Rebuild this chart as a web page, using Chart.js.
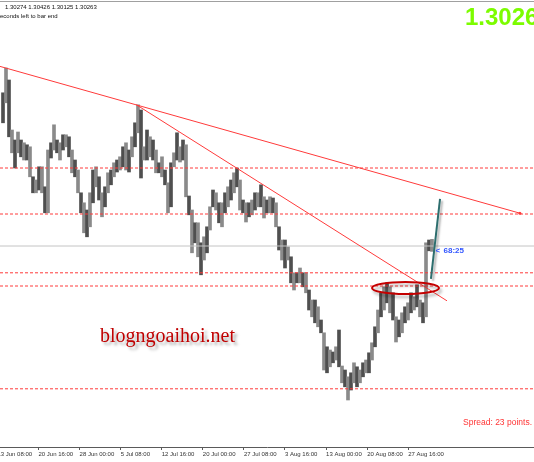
<!DOCTYPE html>
<html>
<head>
<meta charset="utf-8">
<script src="https://cdn.jsdelivr.net/npm/chart.js@4.4.1/dist/chart.umd.min.js"></script>
<style>
  html, body { margin: 0; padding: 0; background: #fff; }
  #wrap { width: 534px; height: 462px; }
</style>
</head>
<body>
<div id="wrap"><canvas id="c" width="534" height="462"></canvas></div>
<script>
(function () {
  "use strict";

  // H4 bars (high / low), oldest first
  var barHigh = [
    1.3409, 1.3471, 1.3441, 1.3316, 1.3291, 1.3311, 1.3291, 1.3284, 1.3279, 1.3274,
    1.3199, 1.3191, 1.3224, 1.3224, 1.3174, 1.3266, 1.3284, 1.3329, 1.3291, 1.3284,
    1.3304, 1.3304, 1.3299, 1.3266, 1.3241, 1.3216, 1.3159, 1.3134, 1.3116, 1.3159,
    1.3216, 1.3224, 1.3199, 1.3159, 1.3174, 1.3209, 1.3216, 1.3234, 1.3241, 1.3249,
    1.3274, 1.3284, 1.3266, 1.3299, 1.3334, 1.3379, 1.3366, 1.3274, 1.3316, 1.3299,
    1.3291, 1.3266, 1.3234, 1.3249, 1.3216, 1.3184, 1.3234, 1.3259, 1.3309, 1.3274,
    1.3291, 1.3279, 1.3151, 1.3116, 1.3084, 1.3084, 1.3034, 1.3049, 1.3074, 1.3124,
    1.3166, 1.3159, 1.3134, 1.3134, 1.3159, 1.3174, 1.3191, 1.3209, 1.3221, 1.3191,
    1.3141, 1.3134, 1.3134, 1.3141, 1.3159, 1.3159, 1.3179, 1.3149, 1.3141, 1.3149,
    1.3146, 1.3134, 1.3074, 1.3041, 1.3041, 1.3024, 1.2999, 1.2959, 1.2959, 1.2971,
    1.2959, 1.2959, 1.2916, 1.2891, 1.2891, 1.2874, 1.2841, 1.2809, 1.2774, 1.2766,
    1.2761, 1.2774, 1.2816, 1.2726, 1.2716, 1.2699, 1.2709, 1.2734, 1.2724, 1.2716,
    1.2734, 1.2741, 1.2759, 1.2784, 1.2824, 1.2866, 1.2909, 1.2924, 1.2934, 1.2924,
    1.2909, 1.2849, 1.2841, 1.2859, 1.2874, 1.2884, 1.2909, 1.2899, 1.2929, 1.2891,
    1.2884, 1.3034, 1.3041, 1.30426
  ];
  var barLow = [
    1.3334, 1.3384, 1.3299, 1.3259, 1.3221, 1.3259, 1.3249, 1.3241, 1.3241, 1.3199,
    1.3159, 1.3159, 1.3166, 1.3159, 1.3109, 1.3109, 1.3246, 1.3266, 1.3259, 1.3241,
    1.3266, 1.3274, 1.3249, 1.3209, 1.3199, 1.3159, 1.3109, 1.3059, 1.3049, 1.3074,
    1.3134, 1.3174, 1.3141, 1.3099, 1.3124, 1.3159, 1.3179, 1.3199, 1.3211, 1.3216,
    1.3224, 1.3216, 1.3211, 1.3249, 1.3274, 1.3309, 1.3196, 1.3241, 1.3241, 1.3249,
    1.3241, 1.3209, 1.3209, 1.3199, 1.3179, 1.3109, 1.3124, 1.3224, 1.3241, 1.3236,
    1.3241, 1.3149, 1.3104, 1.3009, 1.3034, 1.2999, 1.2954, 1.2991, 1.3009, 1.3066,
    1.3124, 1.3116, 1.3084, 1.3074, 1.3109, 1.3124, 1.3141, 1.3159, 1.3174, 1.3116,
    1.3109, 1.3086, 1.3099, 1.3104, 1.3116, 1.3124, 1.3124, 1.3096, 1.3109, 1.3109,
    1.3109, 1.3074, 1.3016, 1.2991, 1.2971, 1.2991, 1.2934, 1.2916, 1.2934, 1.2934,
    1.2924, 1.2909, 1.2866, 1.2849, 1.2834, 1.2824, 1.2809, 1.2716, 1.2709, 1.2724,
    1.2734, 1.2741, 1.2724, 1.2684, 1.2674, 1.2641, 1.2666, 1.2684, 1.2674, 1.2684,
    1.2699, 1.2709, 1.2709, 1.2741, 1.2774, 1.2809, 1.2849, 1.2866, 1.2884, 1.2859,
    1.2841, 1.2786, 1.2799, 1.2809, 1.2834, 1.2841, 1.2859, 1.2866, 1.2874, 1.2849,
    1.2834, 1.2849, 1.3014, 1.30125
  ];

  // time axis, in H4 bar units
  var timeLabels = [
    "13 Jun 08:00", "20 Jun 16:00", "28 Jun 00:00", "5 Jul 08:00",
    "12 Jul 16:00", "20 Jul 00:00", "27 Jul 08:00", "3 Aug 16:00",
    "13 Aug 00:00", "20 Aug 08:00", "27 Aug 16:00"
  ];
  var timeTicks = [-2, 30, 62, 94, 126, 158, 190, 222, 254, 286, 318];

  var levelPrices = [1.3221, 1.3106, 1.2959, 1.2926, 1.2669];
  var bidPrice = 1.3026;

  var trendTimes = [[0, 405], [106.3, 348.2]];
  var trendPrices = [[1.3475, 1.3108], [1.3379, 1.2889]];

  var arrowTimes = [335.7, 342.8];
  var arrowPrices = [1.2944, 1.3144];

  var zoneTimes = [289.8, 342];
  var zonePrices = [1.2906, 1.2936];

  var quote = ["1.30274", "1.30426", "1.30125", "1.30263"];
  var spreadPoints = 23;
  var barTimer = "68:25";

  var timeMin = 0, timeMax = 416;
  var priceMin = 1.25235, priceMax = 1.36335;
  var slots = 178;

  var RED = "#ff3a3a";

  function hline(price, color, dash) {
    return {
      type: "line",
      xAxisID: "x",
      data: [{ x: timeMin, y: price }, { x: timeMax, y: price }],
      borderColor: color,
      borderWidth: 1,
      borderDash: dash,
      pointRadius: 0,
      pointHoverRadius: 0,
      fill: false
    };
  }

  function segment(times, prices, color, width) {
    return {
      type: "line",
      xAxisID: "x",
      data: [{ x: times[0], y: prices[0] }, { x: times[1], y: prices[1] }],
      borderColor: color,
      borderWidth: width,
      pointRadius: 0,
      pointHoverRadius: 0,
      fill: false
    };
  }

  var datasets = [];
  var arrow = segment(arrowTimes, arrowPrices, "#2d6e6e", 2);
  arrow.shadow = true;
  datasets.push(arrow);
  for (var t = 0; t < trendTimes.length; t++) {
    datasets.push(segment(trendTimes[t], trendPrices[t], RED, 1));
  }
  datasets[1].pointRadius = [0, 1.5];
  datasets[1].pointBackgroundColor = RED;
  datasets[1].pointBorderWidth = 0;
  for (var l = 0; l < levelPrices.length; l++) {
    datasets.push(hline(levelPrices[l], RED, [3, 2]));
  }
  datasets.push(hline(bidPrice, "#c4c4c4", []));
  datasets.push({
    type: "bar",
    xAxisID: "xc",
    data: barHigh.map(function (h, i) { return [barLow[i], h]; }),
    backgroundColor: function (ctx) {
      return ctx.dataIndex % 2 ? "#8a8a8a" : "#4f4f4f";
    },
    barThickness: 3,
    borderWidth: 0
  });

  var slotLabels = Array.from({ length: slots }, function (_, i) { return String(i); });

  var decor = {
    id: "decor",
    beforeDatasetDraw: function (chart, args) {
      if (!chart.data.datasets[args.index].shadow) return;
      var c = chart.ctx;
      c.save();
      c.shadowColor = "rgba(0,0,0,0.3)";
      c.shadowOffsetX = 2;
      c.shadowOffsetY = 2;
      c.shadowBlur = 2;
    },
    afterDatasetDraw: function (chart, args) {
      if (chart.data.datasets[args.index].shadow) chart.ctx.restore();
    },
    afterDatasetsDraw: function (chart) {
      var c = chart.ctx, xs = chart.scales.x, ys = chart.scales.y;
      var x0 = xs.getPixelForValue(zoneTimes[0]), x1 = xs.getPixelForValue(zoneTimes[1]);
      var y0 = ys.getPixelForValue(zonePrices[0]), y1 = ys.getPixelForValue(zonePrices[1]);
      c.save();
      c.shadowColor = "rgba(0,0,0,0.3)";
      c.shadowOffsetX = 2;
      c.shadowOffsetY = 3;
      c.shadowBlur = 3;
      c.strokeStyle = "#c40000";
      c.lineWidth = 2;
      c.beginPath();
      c.ellipse((x0 + x1) / 2, (y0 + y1) / 2, Math.abs(x1 - x0) / 2, Math.abs(y1 - y0) / 2, 0, 0, Math.PI * 2);
      c.stroke();
      c.restore();
    },
    afterDraw: function (chart) {
      var c = chart.ctx, ys = chart.scales.y, xc = chart.scales.xc;
      c.save();
      c.strokeStyle = "#a0a0a0";
      c.lineWidth = 1;
      c.beginPath();
      c.moveTo(0, 1.5);
      c.lineTo(chart.width, 1.5);
      c.stroke();

      c.textBaseline = "middle";
      c.fillStyle = "#111";
      c.font = "6px 'Liberation Sans', Arial, sans-serif";
      c.fillText(quote.join(" "), 5, 7);
      c.fillText("seconds left to bar end", -3, 16);

      c.textBaseline = "alphabetic";
      c.fillStyle = "#7cfc00";
      c.font = "bold 24px 'Liberation Sans', Arial, sans-serif";
      c.fillText(quote[3], 465, 25);

      c.textBaseline = "middle";
      c.fillStyle = "#ff3434";
      c.font = "8.5px 'Liberation Sans', Arial, sans-serif";
      c.fillText("Spread: " + spreadPoints + " points.", 463, 423);

      c.fillStyle = "#3256ff";
      c.font = "bold 8px 'Liberation Sans', Arial, sans-serif";
      var tx = xc.getPixelForValue(barHigh.length - 1) + 5;
      var ty = ys.getPixelForValue(bidPrice) + 4.5;
      c.fillText("<", tx, ty);
      c.fillText(barTimer, tx + 8, ty);

      c.shadowColor = "rgba(0,0,0,0.35)";
      c.shadowOffsetX = 3;
      c.shadowOffsetY = 3;
      c.shadowBlur = 3;
      c.textBaseline = "alphabetic";
      c.fillStyle = "#c00000";
      c.font = "20px 'Liberation Serif', 'Times New Roman', serif";
      c.fillText("blogngoaihoi.net", 100, 342);
      c.restore();
    }
  };

  new Chart(document.getElementById("c"), {
    type: "bar",
    data: { labels: slotLabels, datasets: datasets },
    options: {
      responsive: false,
      animation: false,
      events: [],
      layout: { autoPadding: false, padding: { top: 3, left: 0, right: 0, bottom: 0 } },
      plugins: {
        legend: { display: false },
        tooltip: { enabled: false }
      },
      scales: {
        xc: {
          type: "category",
          display: false,
          offset: true,
          grid: { display: false }
        },
        x: {
          type: "linear",
          position: "bottom",
          offset: false,
          min: timeMin,
          max: timeMax,
          afterBuildTicks: function (scale) {
            scale.ticks = timeTicks.map(function (v) { return { value: v }; });
          },
          afterFit: function (scale) {
            scale.height = 15;
            scale.paddingLeft = 0;
            scale.paddingRight = 0;
          },
          border: { color: "#5a5a5a", width: 1 },
          grid: {
            offset: false,
            drawOnChartArea: false,
            drawTicks: true,
            tickLength: 3,
            color: "#5a5a5a"
          },
          ticks: {
            autoSkip: false,
            maxRotation: 0,
            align: "start",
            padding: 1,
            color: "#333",
            font: { family: "'Liberation Sans', Arial, sans-serif", size: 6 },
            callback: function (value, index) {
              return timeLabels[index];
            }
          }
        },
        y: {
          type: "linear",
          display: false,
          min: priceMin,
          max: priceMax
        }
      }
    },
    plugins: [decor]
  });
})();
</script>
</body>
</html>
